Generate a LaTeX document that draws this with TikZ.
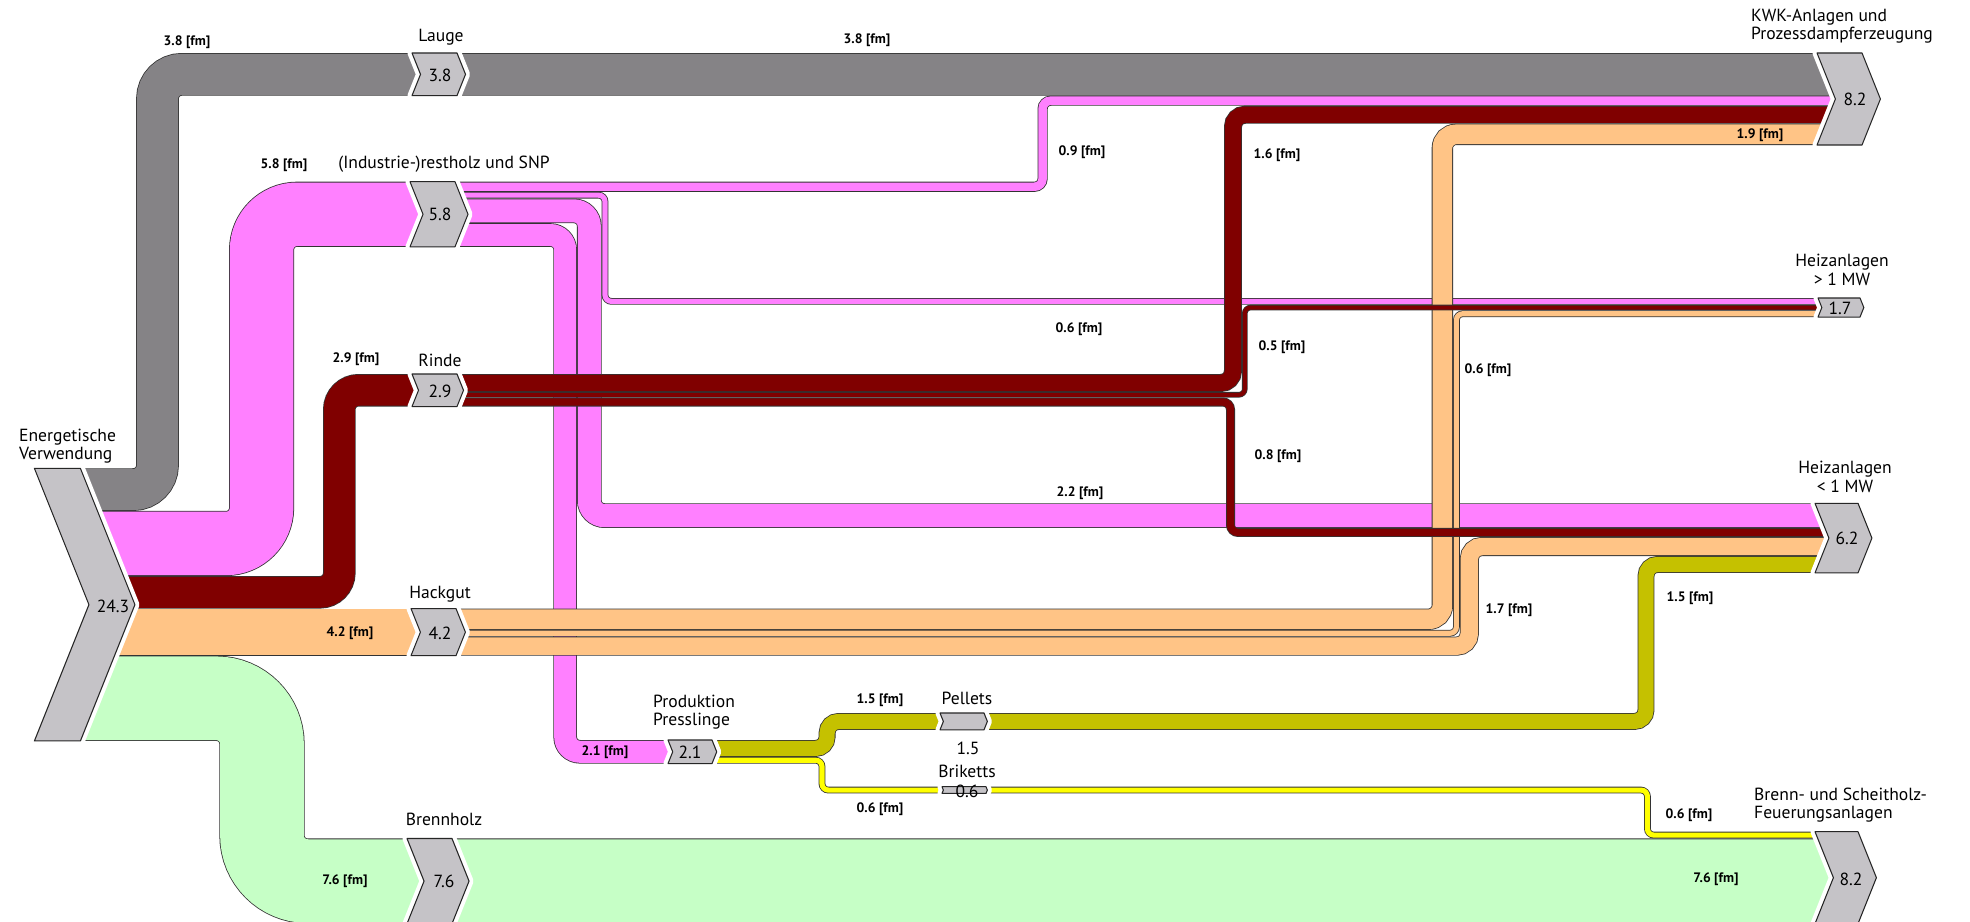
\documentclass[tikz,border=0pt]{standalone}
\usepackage{fontspec}
\setmainfont{PT Sans}
\definecolor{lauge}{RGB}{133,131,134}
\definecolor{rest}{RGB}{255,128,255}
\definecolor{rinde}{RGB}{128,0,0}
\definecolor{hack}{RGB}{255,196,134}
\definecolor{brenn}{RGB}{198,255,198}
\definecolor{pell}{RGB}{197,193,0}
\definecolor{brik}{RGB}{255,255,0}
\definecolor{boxc}{RGB}{197,195,199}
\tikzset{l/.style={font=\fontsize{7.8}{8}\selectfont\bfseries}}
\tikzset{t/.style={font=\fontsize{10}{10.4}\selectfont}}
\tikzset{v/.style={font=\fontsize{10}{10}\selectfont}}
\newcommand{\band}[3]{%
  \draw[black!80,line width={#2*0.2244cm},rounded corners={(#2*5.61+3)*0.02cm}] #3;
  \draw[#1,line width={(#2*11.22-1.6)*0.02cm},rounded corners={(#2*5.61+3)*0.02cm}] #3;}
\newcommand{\chev}[4]{%
  \pgfmathsetmacro\chd{0.2*(#3-#2)}%
  \pgfmathsetmacro\chm{0.5*(#2+#3)}%
  \draw[white,line width=0.18cm,line join=round] (#1,#2) -- ({#1+#4},#2) -- ({#1+#4+\chd},\chm) -- ({#1+#4},#3) -- (#1,#3) -- ({#1+\chd},\chm) -- cycle;
  \filldraw[fill=boxc,draw=black!85,line width=0.6pt,line join=round] (#1,#2) -- ({#1+#4},#2) -- ({#1+#4+\chd},\chm) -- ({#1+#4},#3) -- (#1,#3) -- ({#1+\chd},\chm) -- cycle;}

\begin{document}
\begin{tikzpicture}[x=0.02cm,y=-0.02cm]
  \useasboundingbox (0,0) rectangle (1970,922);
  \band{lauge}{3.8}{(66,489.62) -- (157.5,489.62) -- (157.5,74.32) -- (1840,74.32)}
  \band{brenn}{7.6}{(74,698.3) -- (262,698.3) -- (262,881.1) -- (1840,881.1)}
  \band{rest}{5.8}{(88,543.48) -- (261.6,543.48) -- (261.6,214.24) -- (435,214.24)}
  \band{rest}{0.9}{(435,186.75) -- (1042.6,186.75) -- (1042.6,100.69) -- (1840,100.69)}
  \band{rest}{0.6}{(435,195.17) -- (605,195.17) -- (605,301.37) -- (1840,301.37)}
  \band{rest}{2.2}{(435,210.87) -- (589.3,210.87) -- (589.3,515.64) -- (1840,515.64)}
  \band{rest}{2.1}{(435,234.99) -- (565.18,234.99) -- (565.18,751.78) -- (690,751.78)}
  \band{hack}{4.2}{(100,632.12) -- (435,632.12)}
  \band{hack}{1.9}{(435,619.22) -- (1442.36,619.22) -- (1442.36,134.35) -- (1840,134.35)}
  \band{hack}{0.6}{(435,633.25) -- (1456.4,633.25) -- (1456.4,313.71) -- (1840,313.71)}
  \band{hack}{1.7}{(435,646.15) -- (1469.3,646.15) -- (1469.3,546.5) -- (1840,546.5)}
  \band{rinde}{2.9}{(104,592.29) -- (339.3,592.29) -- (339.3,390.27) -- (435,390.27)}
  \band{rinde}{1.6}{(435,382.98) -- (1232.97,382.98) -- (1232.97,114.72) -- (1840,114.72)}
  \band{rinde}{0.5}{(435,394.76) -- (1244.76,394.76) -- (1244.76,307.54) -- (1840,307.54)}
  \band{rinde}{0.8}{(435,402.05) -- (1230.5,402.05) -- (1230.5,532.47) -- (1840,532.47)}
  \band{pell}{1.5}{(690,748.42) -- (827.1,748.42) -- (827.1,721.42) -- (1646,721.42) -- (1646,564.45) -- (1840,564.45)}
  \band{brik}{0.6}{(690,760.2) -- (822,760.2) -- (822,790.07) -- (1647.4,790.07) -- (1647.4,835.07) -- (1840,835.07)}

  \chev{34.4}{468.3}{740.95}{46}
  \chev{412}{53}{95.64}{45}
  \chev{410}{181.7}{246.78}{45}
  \chev{412}{374}{406.54}{45}
  \chev{411}{608.56}{655.68}{45}
  \chev{407}{838.5}{923.7}{45}
  \chev{668}{740}{763.56}{44}
  \chev{940}{713}{729.83}{44}
  \chev{942}{786.7}{793.43}{44}
  \chev{1817}{53}{145}{45}
  \chev{1818}{298}{317.07}{42}
  \chev{1815}{503.3}{572.86}{43}
  \chev{1815}{831.7}{923.7}{43}

  \node[t,align=left,anchor=west] (tSrc) at (13,446) {Energetische\\Verwendung};
  \node[v] (vSrc) at (113,606) {24.3};
  \node[t] (tLauge) at (441,37) {Lauge};
  \node[v] (vLauge) at (440,75) {3.8};
  \node[l] (fLauge) at (187,42) {3.8 [fm]};
  \node[l] (fLaugeK) at (867,40) {3.8 [fm]};
  \node[t] (tRest) at (444,164) {(Industrie-)restholz und SNP};
  \node[v] (vRest) at (440,214) {5.8};
  \node[l] (fRest) at (284,165) {5.8 [fm]};
  \node[t] (tRinde) at (440,360) {Rinde};
  \node[v] (vRinde) at (440,391) {2.9};
  \node[l] (fRinde) at (356,359) {2.9 [fm]};
  \node[t] (tHack) at (440,594) {Hackgut};
  \node[v] (vHack) at (440,633) {4.2};
  \node[l] (fHack) at (350,633) {4.2 [fm]};
  \node[t] (tBrenn) at (444,819) {Brennholz};
  \node[v] (vBrenn) at (444,881) {7.6};
  \node[l] (fBrenn) at (345,881) {7.6 [fm]};
  \node[l] (fBrennF) at (1716,879) {7.6 [fm]};
  \node[t,align=left,anchor=west] (tPress) at (647,712) {Produktion\\Presslinge};
  \node[v] (vPress) at (690,752) {2.1};
  \node[l] (fPress) at (605,752) {2.1 [fm]};
  \node[t] (tPell) at (967,698) {Pellets};
  \node[v] (vPell) at (968,748) {1.5};
  \node[l] (fPell) at (880,700) {1.5 [fm]};
  \node[l] (fPellH) at (1690,598) {1.5 [fm]};
  \node[t] (tBrik) at (967,771) {Briketts};
  \node[v] (vBrik) at (967,791) {0.6};
  \node[l] (fBrik) at (880,809) {0.6 [fm]};
  \node[l] (fBrikF) at (1689,815) {0.6 [fm]};
  \node[l] (fRestK) at (1082,152) {0.9 [fm]};
  \node[l] (fRestH) at (1079,329) {0.6 [fm]};
  \node[l] (fRestS) at (1080,493) {2.2 [fm]};
  \node[l] (fRindeK) at (1277,155) {1.6 [fm]};
  \node[l] (fRindeH) at (1282,347) {0.5 [fm]};
  \node[l] (fRindeS) at (1278,456) {0.8 [fm]};
  \node[l] (fHackH) at (1488,370) {0.6 [fm]};
  \node[l] (fHackK) at (1760,135) {1.9 [fm]};
  \node[l] (fHackS) at (1509,610) {1.7 [fm]};
  \node[t,align=left,anchor=west] (tKwk) at (1745,26) {KWK-Anlagen und\\Prozessdampferzeugung};
  \node[v] (vKwk) at (1855,99) {8.2};
  \node[t,align=center] (tHzG) at (1842,270) {Heizanlagen\\> 1 MW};
  \node[v] (vHzG) at (1840,308) {1.7};
  \node[t,align=center] (tHzK) at (1845,477) {Heizanlagen\\< 1 MW};
  \node[v] (vHzK) at (1847,538) {6.2};
  \node[t,align=left,anchor=west] (tFeu) at (1748,805) {Brenn- und Scheitholz-\\Feuerungsanlagen};
  \node[v] (vFeu) at (1851,879) {8.2};
\end{tikzpicture}
\end{document}
